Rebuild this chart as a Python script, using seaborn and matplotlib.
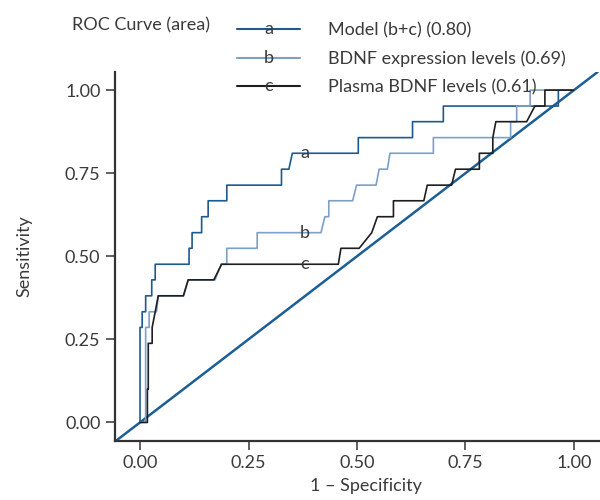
"""ROC curves: model vs BDNF expression vs plasma BDNF."""

import matplotlib

matplotlib.use("Agg")
import matplotlib.pyplot as plt
import numpy as np
import pandas as pd
import seaborn as sns
from matplotlib.legend_handler import HandlerLine2D
from matplotlib.lines import Line2D
from matplotlib.text import Text

# curva a: modelo (b+c)
FPR_A = [0.0, 0.0, 0.005, 0.005, 0.013, 0.013, 0.027, 0.027, 0.035, 0.035,
         0.113, 0.113, 0.12, 0.12, 0.142, 0.142, 0.157, 0.157, 0.2, 0.2,
         0.326, 0.326, 0.343, 0.351, 0.503, 0.503, 0.628, 0.628, 0.699, 0.699,
         0.964, 0.964, 1.0]
TPR_A = [0.0, 0.286, 0.286, 0.333, 0.333, 0.381, 0.381, 0.429, 0.429, 0.476,
         0.476, 0.524, 0.524, 0.571, 0.571, 0.619, 0.619, 0.667, 0.667, 0.714,
         0.714, 0.762, 0.762, 0.81, 0.81, 0.857, 0.857, 0.905, 0.905, 0.952,
         0.952, 1.0, 1.0]

# curva b: BDNF expression
FPR_B = [0.0, 0.013, 0.013, 0.021, 0.021, 0.038, 0.042, 0.1, 0.111, 0.173,
         0.187, 0.2, 0.2, 0.27, 0.27, 0.417, 0.426, 0.435, 0.435, 0.49,
         0.499, 0.544, 0.551, 0.57, 0.576, 0.676, 0.676, 0.854, 0.854, 0.868,
         0.868, 0.899, 0.899, 1.0]
TPR_B = [0.0, 0.0, 0.286, 0.286, 0.333, 0.333, 0.381, 0.381, 0.429, 0.429,
         0.476, 0.476, 0.524, 0.524, 0.571, 0.571, 0.619, 0.619, 0.667, 0.667,
         0.714, 0.714, 0.762, 0.762, 0.81, 0.81, 0.857, 0.857, 0.905, 0.905,
         0.952, 0.952, 1.0, 1.0]

# curva c: plasma BDNF
FPR_C = [0.0, 0.017, 0.017, 0.019, 0.019, 0.028, 0.028, 0.035, 0.042, 0.1,
         0.111, 0.17, 0.188, 0.457, 0.463, 0.505, 0.534, 0.547, 0.584, 0.584,
         0.654, 0.662, 0.718, 0.727, 0.782, 0.782, 0.813, 0.813, 0.82, 0.891,
         0.91, 0.933, 0.933, 1.0]
TPR_C = [0.0, 0.0, 0.1, 0.1, 0.238, 0.238, 0.286, 0.333, 0.381, 0.381,
         0.429, 0.429, 0.476, 0.476, 0.524, 0.524, 0.571, 0.619, 0.619, 0.667,
         0.667, 0.714, 0.714, 0.762, 0.762, 0.81, 0.81, 0.857, 0.905, 0.905,
         0.952, 0.952, 1.0, 1.0]

CURVE_KEYS = ["a", "b", "c"]
CURVE_LABELS = [
    "Model (b+c) (0.80)",
    "BDNF expression levels (0.69)",
    "Plasma BDNF levels (0.61)",
]
TICKS = [0.0, 0.25, 0.5, 0.75, 1.0]

COLORS = {"a": "#1d5a8e", "b": "#7d9fc9", "c": "#1e1e1e"}
DIAG_COLOR = "#1b5f96"
TEXT_COLOR = "#3a3a3a"
FS = 13


class LetterHandler(HandlerLine2D):
    """Linea de leyenda con la letra de la curva encima."""

    def __init__(self, letter, **kw):
        super().__init__(**kw)
        self.letter = letter

    def create_artists(self, legend, orig_handle, xdescent, ydescent,
                       width, height, fontsize, trans):
        artists = super().create_artists(legend, orig_handle, xdescent, ydescent,
                                         width, height, fontsize, trans)
        t = Text(width / 2 - xdescent, height / 2 - ydescent, self.letter,
                 ha="center", va="center", fontsize=fontsize, color=TEXT_COLOR,
                 transform=trans)
        return list(artists) + [t]


sns.set_style("ticks")
plt.rcParams["font.family"] = ["Lato", "DejaVu Sans"]

frames = []
for key, fpr, tpr in zip(CURVE_KEYS, [FPR_A, FPR_B, FPR_C], [TPR_A, TPR_B, TPR_C]):
    frames.append(pd.DataFrame({"fpr": fpr, "tpr": tpr, "curve": key}))
df = pd.concat(frames, ignore_index=True)

fig = plt.figure(figsize=(6, 5), dpi=100)
ax = fig.add_axes([0.1917, 0.1186, 0.8083, 0.7374])

ax.axline((0, 0), (1, 1), color=DIAG_COLOR, lw=1.8, zorder=1)
sns.lineplot(
    data=df, x="fpr", y="tpr", hue="curve", palette=COLORS,
    sort=False, estimator=None, legend=False, lw=1.2, ax=ax, zorder=2,
)

# letras sobre las curvas
x_lab = 0.379
for key, fpr, tpr in zip(CURVE_KEYS, [FPR_A, FPR_B, FPR_C], [TPR_A, TPR_B, TPR_C]):
    idx = np.searchsorted(fpr, x_lab, side="right") - 1
    ax.text(x_lab, tpr[idx], key, ha="center", va="center", fontsize=FS,
            color=TEXT_COLOR, zorder=3)

ax.set_xlim(-0.0576, 1.06)
ax.set_ylim(-0.055, 1.0545)
ax.set_xticks(TICKS)
ax.set_yticks(TICKS)
ax.set_xticklabels([f"{t:.2f}" for t in TICKS])
ax.set_yticklabels([f"{t:.2f}" for t in TICKS])
ax.tick_params(length=6.5, width=1.2, color="#444444", labelsize=FS,
               labelcolor=TEXT_COLOR, pad=4)
for side in ["top", "right"]:
    ax.spines[side].set_visible(False)
for side in ["left", "bottom"]:
    ax.spines[side].set_linewidth(1.6)
    ax.spines[side].set_color("#333333")

ax.set_xlabel("1 – Specificity", fontsize=FS, color=TEXT_COLOR)
ax.set_ylabel("Sensitivity", fontsize=FS, color=TEXT_COLOR)
ax.xaxis.set_label_coords(0.517, -0.1)
ax.yaxis.set_label_coords(-0.17, 0.5)

handles = [Line2D([], [], color=COLORS[k], lw=1.5) for k in CURVE_KEYS]
fig.legend(
    handles, CURVE_LABELS, loc="upper left", bbox_to_anchor=(0.368, 0.988),
    frameon=False, fontsize=FS, handlelength=3.5, handletextpad=1.55,
    labelspacing=0.68, labelcolor=TEXT_COLOR,
    handler_map={h: LetterHandler(k) for h, k in zip(handles, CURVE_KEYS)},
)
fig.text(0.12, 0.95, "ROC Curve (area)", fontsize=FS, color=TEXT_COLOR,
         va="center", ha="left")

fig.savefig("out.png", dpi=100)
